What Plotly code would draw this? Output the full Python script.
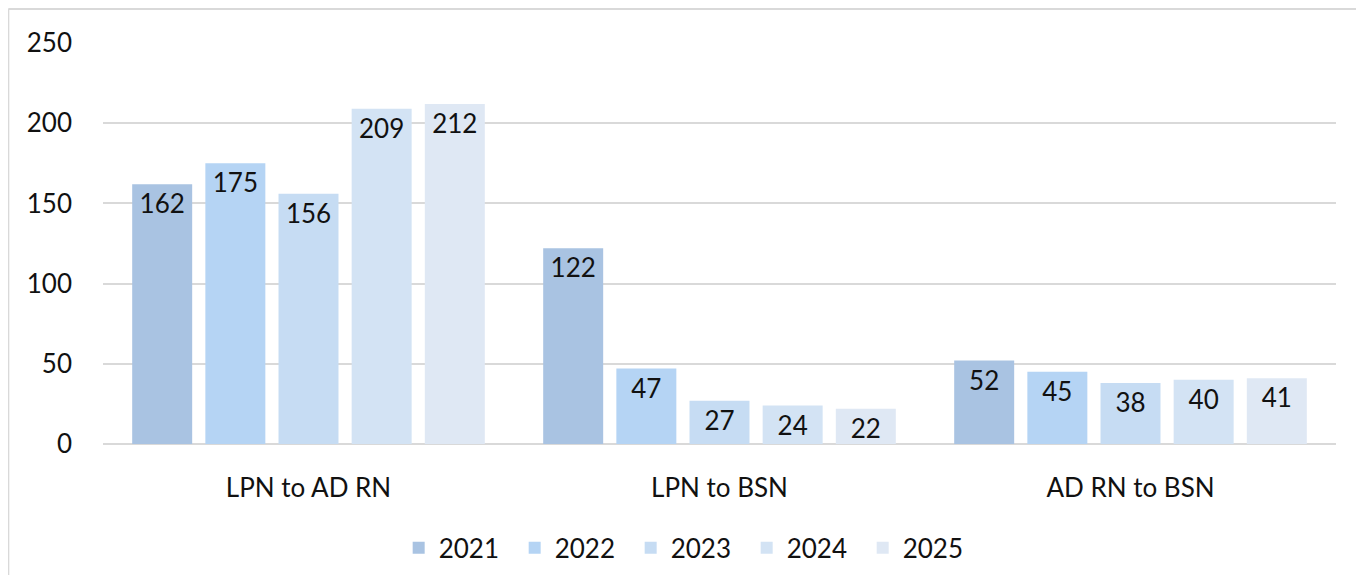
import plotly.graph_objects as go

categories = ["LPN to AD RN", "LPN to BSN", "AD RN to BSN"]
years = ["2021", "2022", "2023", "2024", "2025"]
values_2021 = [162, 122, 52]
values_2022 = [175, 47, 45]
values_2023 = [156, 27, 38]
values_2024 = [209, 24, 40]
values_2025 = [212, 22, 41]
series = [values_2021, values_2022, values_2023, values_2024, values_2025]
colors = ["#a9c3e2", "#b5d4f4", "#c6dcf3", "#d3e3f4", "#dfe8f4"]

FONT = "Lato, Calibri, Carlito, sans-serif"

fig = go.Figure()
for yr, vals, col in zip(years, series, colors):
    fig.add_trace(go.Bar(
        name=yr, x=categories, y=vals,
        marker=dict(color=col, line=dict(width=0)),
        text=[str(v) for v in vals],
        textposition="inside", insidetextanchor="end",
        constraintext="none", textangle=0,
        textfont=dict(family=FONT, size=26, color="#111111"),
    ))

# outer chart border (top and left visible)
fig.add_shape(type="line", xref="paper", yref="paper", x0=-0.0768, x1=1.1,
              y0=1.0848, y1=1.0848, line=dict(color="#d9d9d9", width=2))
fig.add_shape(type="line", xref="paper", yref="paper", x0=-0.0768, x1=-0.0768,
              y0=1.0848, y1=-0.6, line=dict(color="#d9d9d9", width=2))

# page body has an 8px margin; compensate so the plot lands where intended
fig.update_layout(
    width=1348, height=567,
    margin=dict(l=95, r=20, t=35, b=131, autoexpand=False),
    paper_bgcolor="white", plot_bgcolor="white",
    barmode="group", bargap=0.11, bargroupgap=0.18,
    font=dict(family=FONT, size=26, color="#111111"),
    showlegend=True,
    legend=dict(orientation="h", x=0.475, xanchor="center", y=-0.259, yanchor="middle",
                font=dict(family=FONT, size=26, color="#111111"),
                entrywidth=71, bgcolor="rgba(0,0,0,0)"),
    xaxis=dict(showgrid=False, showline=False, ticks="", ticklabelstandoff=26,
               tickfont=dict(family=FONT, size=26, color="#111111")),
    yaxis=dict(range=[0, 250], tickvals=[0, 50, 100, 150, 200, 250],
               showgrid=True, gridcolor="#d9d9d9", gridwidth=2,
               zeroline=True, zerolinecolor="#d9d9d9", zerolinewidth=2,
               showline=False, ticks="", ticklabelstandoff=30,
               tickfont=dict(family=FONT, size=26, color="#111111")),
)

fig.write_html("out.html")
